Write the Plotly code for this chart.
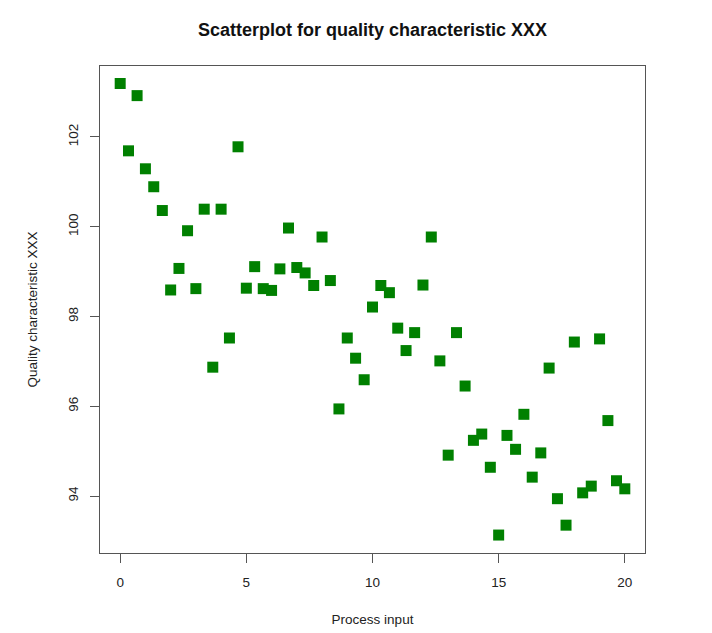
import plotly.graph_objects as go

process_input = [
    0.00, 0.33, 0.67, 1.00, 1.33, 1.67, 2.00, 2.33, 2.67, 3.00,
    3.33, 3.67, 4.00, 4.33, 4.67, 5.00, 5.33, 5.67, 6.00, 6.33,
    6.67, 7.00, 7.33, 7.67, 8.00, 8.33, 8.67, 9.00, 9.33, 9.67,
    10.00, 10.33, 10.67, 11.00, 11.33, 11.67, 12.00, 12.33, 12.67, 13.00,
    13.33, 13.67, 14.00, 14.33, 14.67, 15.00, 15.33, 15.67, 16.00, 16.33,
    16.67, 17.00, 17.33, 17.67, 18.00, 18.33, 18.67, 19.00, 19.33, 19.67,
    20.00,
]
quality_xxx = [
    103.19, 101.69, 102.92, 101.29, 100.89, 100.36, 98.59, 99.07, 99.91, 98.62,
    100.39, 96.87, 100.39, 97.52, 101.78, 98.63, 99.11, 98.62, 98.58, 99.06,
    99.97, 99.09, 98.97, 98.69, 99.77, 98.80, 95.94, 97.52, 97.07, 96.59,
    98.21, 98.69, 98.53, 97.74, 97.24, 97.64, 98.70, 99.77, 97.01, 94.91,
    97.64, 96.45, 95.24, 95.38, 94.64, 93.13, 95.35, 95.04, 95.82, 94.42,
    94.96, 96.85, 93.94, 93.35, 97.43, 94.07, 94.22, 97.50, 95.68, 94.34,
    94.16,
]
x_ticks = [0, 5, 10, 15, 20]
y_ticks = [94, 96, 98, 100, 102]

FONT = "Liberation Sans, Arial, sans-serif"

fig = go.Figure(
    go.Scatter(
        x=process_input,
        y=quality_xxx,
        mode="markers",
        marker=dict(symbol="square", size=11, color="#008000", line=dict(width=0)),
        hoverinfo="x+y",
    )
)

axis_common = dict(
    showgrid=False,
    zeroline=False,
    showline=True,
    mirror=True,
    linecolor="#555555",
    linewidth=1,
    ticks="outside",
    ticklen=9,
    tickcolor="#555555",
    tickwidth=1,
    tickfont=dict(family=FONT, size=13.5, color="#222222"),
)

fig.update_layout(
    width=712,
    height=633,
    paper_bgcolor="white",
    plot_bgcolor="white",
    margin=dict(l=92, r=75, t=58, b=88, autoexpand=False),
    showlegend=False,
    title=dict(
        text="<b>Scatterplot for quality characteristic XXX</b>",
        font=dict(family=FONT, size=18, color="#111111"),
        x=(92 + 637) / 2 / 712,
        xanchor="center",
        xref="container",
        y=1 - 22 / 633,
        yanchor="middle",
        yref="container",
    ),
    xaxis=dict(
        axis_common,
        range=[-0.8, 20.8],
        tickvals=x_ticks,
        ticktext=[str(v) for v in x_ticks],
        ticklabelstandoff=8,
        title=dict(
            text="Process input",
            font=dict(family=FONT, size=13.5, color="#222222"),
            standoff=25,
        ),
    ),
    yaxis=dict(
        axis_common,
        range=[92.73, 103.58],
        tickvals=y_ticks,
        ticktext=[str(v) for v in y_ticks],
        tickangle=-90,
        ticklabelstandoff=7,
        title=dict(
            text="Quality characteristic XXX",
            font=dict(family=FONT, size=13.5, color="#222222"),
            standoff=24,
        ),
    ),
)

fig.write_html("out.html")
